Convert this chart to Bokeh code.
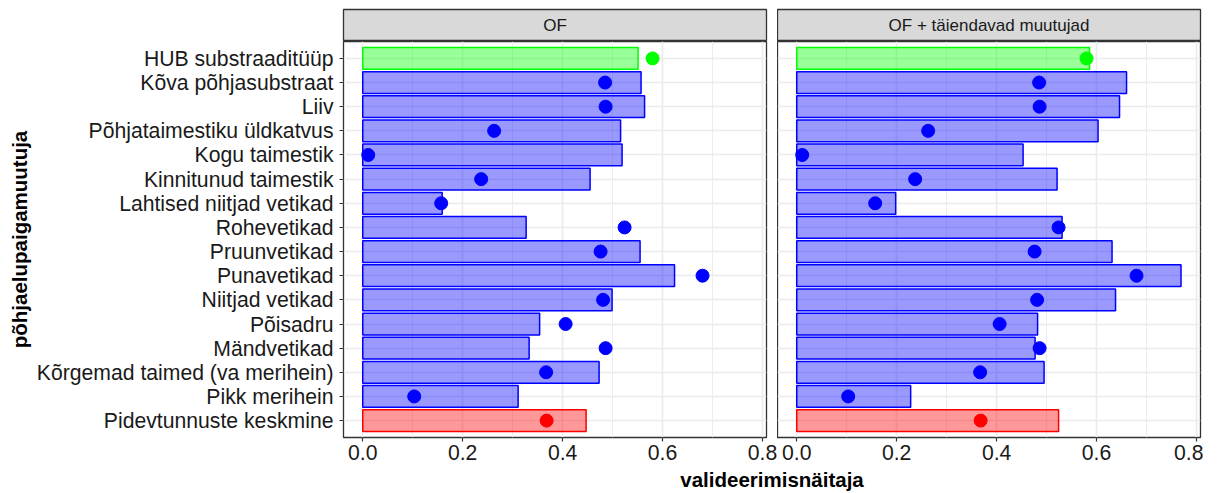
from bokeh.plotting import figure
from bokeh.models import Range1d, FactorRange, FixedTicker, ColumnDataSource, Label, NumeralTickFormatter
from bokeh.layouts import column, row
from bokeh.embed import file_html
from bokeh.resources import INLINE

# ---------------- data ----------------
categories = [
    "HUB substraaditüüp",
    "Kõva põhjasubstraat",
    "Liiv",
    "Põhjataimestiku üldkatvus",
    "Kogu taimestik",
    "Kinnitunud taimestik",
    "Lahtised niitjad vetikad",
    "Rohevetikad",
    "Pruunvetikad",
    "Punavetikad",
    "Niitjad vetikad",
    "Põisadru",
    "Mändvetikad",
    "Kõrgemad taimed (va merihein)",
    "Pikk merihein",
    "Pidevtunnuste keskmine",
]
kind = ["hub"] + ["var"] * 14 + ["mean"]

panels = ["OF", "OF + täiendavad muutujad"]

bars_of = [0.551, 0.557, 0.564, 0.516, 0.519, 0.455, 0.159, 0.327,
           0.555, 0.624, 0.499, 0.354, 0.333, 0.473, 0.311, 0.447]
bars_of_plus = [0.586, 0.660, 0.646, 0.603, 0.453, 0.521, 0.198, 0.531,
                0.631, 0.769, 0.638, 0.482, 0.477, 0.495, 0.228, 0.524]
points = [0.580, 0.485, 0.486, 0.263, 0.011, 0.237, 0.157, 0.524,
          0.476, 0.680, 0.481, 0.406, 0.486, 0.367, 0.103, 0.368]

x_ticks = [0.0, 0.2, 0.4, 0.6, 0.8]
x_title = "valideerimisnäitaja"
y_title = "põhjaelupaigamuutuja"

# ---------------- styling ----------------
FONT = "Liberation Sans"
kind_color = {"hub": "#00FF00", "var": "#0000FF", "mean": "#FF0000"}
colors = [kind_color[k] for k in kind]
minor_ticks = [(a + b) / 2 for a, b in zip(x_ticks[:-1], x_ticks[1:])]

FRAME_W = 423
FRAME_H = 396
GAP = 11
LEFT = 343
STRIP_H = 32
LABEL_SIZE = "21.2px"

y_range = FactorRange(factors=list(reversed(categories)), range_padding=0.2,
                      range_padding_units="absolute")


def make_panel(values, first):
    src = ColumnDataSource(dict(cat=categories, val=values, pt=points, color=colors))
    kw = dict(
        x_range=Range1d(-0.0385, 0.808), y_range=y_range,
        frame_width=FRAME_W, frame_height=FRAME_H,
        output_backend="svg", toolbar_location=None,
        min_border_top=0, min_border_bottom=32,
        background_fill_color="white", border_fill_color="white",
        outline_line_color="#333333", outline_line_width=1.3,
    )
    if first:
        p = figure(min_border_left=LEFT, min_border_right=GAP, **kw)
    else:
        p = figure(min_border_left=0, min_border_right=3, y_axis_location=None, **kw)

    p.hbar(y="cat", left=0, right="val", height=0.9, source=src,
           fill_color="color", fill_alpha=0.4, line_color="color", line_width=1.5)
    p.scatter(x="pt", y="cat", size=13, source=src, fill_color="color",
              line_color="color")

    # grids
    p.xaxis.ticker = FixedTicker(ticks=x_ticks, minor_ticks=minor_ticks)
    p.xgrid.grid_line_color = "#EBEBEB"
    p.xgrid.grid_line_width = 1.6
    p.xgrid.minor_grid_line_color = "#EBEBEB"
    p.xgrid.minor_grid_line_width = 0.9
    p.ygrid.grid_line_color = "#EBEBEB"
    p.ygrid.grid_line_width = 1.6

    # x axis
    xa = p.xaxis[0]
    xa.formatter = NumeralTickFormatter(format="0.0")
    xa.axis_line_color = None
    xa.major_tick_line_color = "#333333"
    xa.major_tick_line_width = 1.2
    xa.major_tick_out = 4
    xa.major_tick_in = 0
    xa.minor_tick_line_color = None
    xa.major_label_standoff = 3
    xa.major_label_text_font = FONT
    xa.major_label_text_font_size = LABEL_SIZE
    xa.major_label_text_color = "#1A1A1A"

    if first:
        ya = p.yaxis[0]
        ya.axis_line_color = None
        ya.major_tick_line_color = "#333333"
        ya.major_tick_line_width = 1.2
        ya.major_tick_out = 4
        ya.major_tick_in = 0
        ya.major_label_standoff = 6
        ya.major_label_text_font = FONT
        ya.major_label_text_font_size = LABEL_SIZE
        ya.major_label_text_color = "#1A1A1A"
        ya.axis_label = y_title
        ya.axis_label_text_font = FONT
        ya.axis_label_text_font_style = "bold"
        ya.axis_label_text_font_size = "20.5px"
        ya.axis_label_text_color = "#000000"
        ya.axis_label_standoff = 3
    return p


def make_strip(text, first):
    s = figure(x_range=Range1d(0, 1), y_range=Range1d(0, 1),
               frame_width=FRAME_W, frame_height=STRIP_H,
               x_axis_location=None, y_axis_location=None,
               output_backend="svg", toolbar_location=None,
               min_border_left=LEFT if first else 0,
               min_border_right=GAP if first else 3,
               min_border_top=9, min_border_bottom=0,
               background_fill_color="#D9D9D9", border_fill_color="white",
               outline_line_color="#333333", outline_line_width=1.3)
    for g in s.grid:
        g.visible = False
    s.add_layout(Label(x=0.5, y=0.5, text=text, text_align="center",
                       text_baseline="middle", text_font=FONT,
                       text_font_size="17px", text_color="#1A1A1A"))
    return s


p1 = make_panel(bars_of, True)
p2 = make_panel(bars_of_plus, False)
s1 = make_strip(panels[0], True)
s2 = make_strip(panels[1], False)

t = figure(x_range=Range1d(0, 1), y_range=Range1d(0, 1),
           frame_width=FRAME_W * 2 + GAP, frame_height=22,
           x_axis_location=None, y_axis_location=None,
           output_backend="svg", toolbar_location=None,
           min_border_left=LEFT, min_border_right=3,
           min_border_top=0, min_border_bottom=0,
           outline_line_color=None, border_fill_color="white",
           background_fill_color="white")
for g in t.grid:
    g.visible = False
t.add_layout(Label(x=0.5, y=0.55, text=x_title, text_align="center",
                   text_baseline="middle", text_font=FONT,
                   text_font_style="bold", text_font_size="20.5px",
                   text_color="#000000"))

layout = column(row(s1, s2, spacing=0), row(p1, p2, spacing=0), t, spacing=0)

open("out.html", "w").write(file_html(layout, INLINE))
